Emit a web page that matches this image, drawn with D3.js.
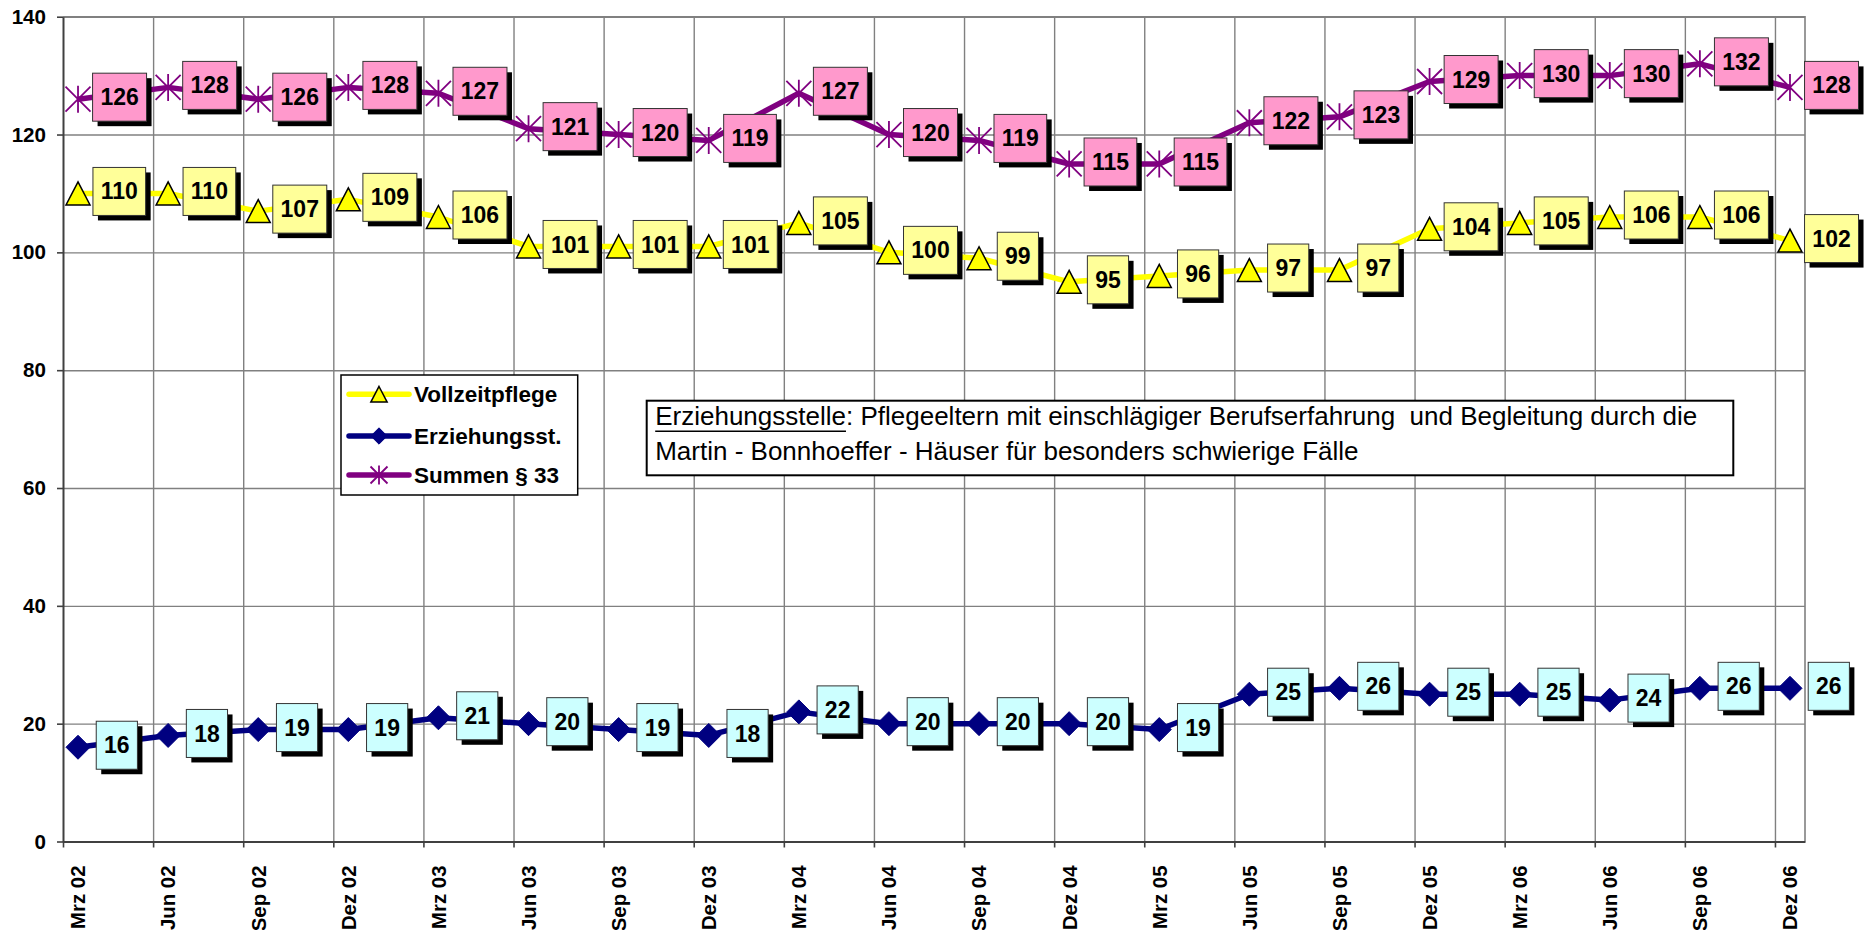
<!DOCTYPE html>
<html>
<head>
<meta charset="utf-8">
<script src="https://cdn.jsdelivr.net/npm/d3@7"></script>
<style>
  body { margin: 0; background: #fff; }
  svg { display: block; }
  text { font-family: Arial, "Liberation Sans", Helvetica, sans-serif; }
</style>
</head>
<body>
<svg id="chart" width="1865" height="930"></svg>
<script>
// Quarterly head counts, March 2002 – December 2006
const quarters = ["Mrz 02", "Jun 02", "Sep 02", "Dez 02", "Mrz 03", "Jun 03", "Sep 03", "Dez 03",
                  "Mrz 04", "Jun 04", "Sep 04", "Dez 04", "Mrz 05", "Jun 05", "Sep 05", "Dez 05",
                  "Mrz 06", "Jun 06", "Sep 06", "Dez 06"];
const vollzeitpflege = [110, 110, 107, 109, 106, 101, 101, 101, 105, 100, 99, 95, 96, 97, 97, 104, 105, 106, 106, 102];
const erziehungsstellen = [16, 18, 19, 19, 21, 20, 19, 18, 22, 20, 20, 20, 19, 25, 26, 25, 25, 24, 26, 26];
const summen33 = [126, 128, 126, 128, 127, 121, 120, 119, 127, 120, 119, 115, 115, 122, 123, 129, 130, 130, 132, 128];
const yTicks = [0, 20, 40, 60, 80, 100, 120, 140];
const seriesNames = ["Vollzeitpflege", "Erziehungsst.", "Summen § 33"];
const noteTerm = "Erziehungsstelle";
const noteRest = ": Pflegeeltern mit einschlägiger Berufserfahrung  und Begleitung durch die";
const noteLine2 = "Martin - Bonnhoeffer - Häuser für besonders schwierige Fälle";

const svg = d3.select("#chart");
const plot = { left: 63, right: 1805, top: 16.7, bottom: 841.5 };
const monthsShown = 58; // Mar 2002 .. Dec 2006, one slot per month

// x runs over month slots; each quarter's point sits in the middle of its month
const x = d3.scaleLinear().domain([0, monthsShown]).range([plot.left, plot.right]);
const y = d3.scaleLinear().domain([0, 140]).range([plot.bottom, plot.top]);
const px = i => x(3 * i + 0.5);

const gridColor = "#808080";
const axisColor = "#404040";

// Gridlines
svg.append("g")
  .attr("transform", `translate(${plot.left},0)`)
  .call(d3.axisLeft(y).tickValues(yTicks.filter(v => v > 0)).tickSize(-(plot.right - plot.left)).tickFormat(""))
  .call(g => g.select(".domain").remove())
  .call(g => g.selectAll("line").attr("stroke", gridColor).attr("stroke-width", 1.4));

svg.append("g")
  .attr("transform", `translate(0,${plot.bottom})`)
  .call(d3.axisBottom(x).tickValues(quarters.map((q, i) => 3 * i).filter(v => v > 0))
        .tickSize(-(plot.bottom - plot.top)).tickFormat(""))
  .call(g => g.select(".domain").remove())
  .call(g => g.selectAll("line").attr("stroke", gridColor).attr("stroke-width", 1.4));

// Plot frame: top and right in grey
svg.append("path")
  .attr("d", `M${plot.left},${plot.top}H${plot.right}V${plot.bottom}`)
  .attr("fill", "none").attr("stroke", gridColor).attr("stroke-width", 1.6);

// Y axis
svg.append("g")
  .attr("transform", `translate(${plot.left},0)`)
  .call(d3.axisLeft(y).tickValues(yTicks).tickSize(6).tickPadding(11).tickSizeOuter(0))
  .call(g => g.select(".domain").attr("stroke", axisColor).attr("stroke-width", 2))
  .call(g => g.selectAll(".tick line").attr("stroke", axisColor).attr("stroke-width", 1.6))
  .call(g => g.selectAll(".tick text")
    .attr("font-size", "20.6px").attr("font-weight", "bold").attr("fill", "#000")
    .attr("font-family", "Arial, 'Liberation Sans', sans-serif"));

// X axis: ticks at quarter starts, labels under each point
svg.append("g")
  .attr("transform", `translate(0,${plot.bottom})`)
  .call(d3.axisBottom(x).tickValues(quarters.map((q, i) => 3 * i)).tickSize(6).tickFormat("").tickSizeOuter(0))
  .call(g => g.select(".domain").attr("stroke", axisColor).attr("stroke-width", 2))
  .call(g => g.selectAll(".tick line").attr("stroke", axisColor).attr("stroke-width", 1.6));

svg.append("g").selectAll("text")
  .data(quarters)
  .join("text")
  .attr("transform", (d, i) => `translate(${px(i)},${plot.bottom + 24}) rotate(-90)`)
  .attr("text-anchor", "end")
  .attr("dy", "0.36em")
  .attr("font-size", "20.4px")
  .attr("font-weight", "bold")
  .text(d => d);

// Series
const series = [
  { name: seriesNames[0], values: vollzeitpflege, color: "#FFFF00", marker: "triangle", labelFill: "#FFFF99" },
  { name: seriesNames[1], values: erziehungsstellen, color: "#000080", marker: "diamond", labelFill: "#CCFFFF" },
  { name: seriesNames[2], values: summen33, color: "#800080", marker: "star", labelFill: "#FF99CC" }
];

function drawMarker(sel, type, color, s) {
  if (type === "triangle") {
    sel.append("path")
      .attr("d", `M0,${-11.5 * s}L${12 * s},${11.5 * s}L${-12 * s},${11.5 * s}Z`)
      .attr("fill", "#FFFF00").attr("stroke", "#000").attr("stroke-width", 1.5).attr("stroke-linejoin", "miter");
  } else if (type === "diamond") {
    sel.append("path")
      .attr("d", `M0,${-12 * s}L${12 * s},0L0,${12 * s}L${-12 * s},0Z`)
      .attr("fill", color).attr("stroke", color).attr("stroke-width", 1);
  } else {
    const r = 12.5 * s;
    sel.append("path")
      .attr("d", `M${-r},${-r}L${r},${r}M${-r},${r}L${r},${-r}M0,${-r - 1}L0,${r + 1}`)
      .attr("fill", "none").attr("stroke", color).attr("stroke-width", 1.8);
  }
}

const line = d3.line().x((d, i) => px(i)).y(d => y(d));

series.forEach(sr => {
  svg.append("path")
    .datum(sr.values)
    .attr("d", line)
    .attr("fill", "none")
    .attr("stroke", sr.color)
    .attr("stroke-width", 5.5)
    .attr("stroke-linejoin", "round");
  const m = svg.append("g").selectAll("g")
    .data(sr.values)
    .join("g")
    .attr("transform", (d, i) => `translate(${px(i)},${y(d)})`);
  m.each(function () { drawMarker(d3.select(this), sr.marker, sr.color, 1); });
});

// Value labels in boxes with drop shadow, to the right of each point
const labelLayer = svg.append("g");
series.forEach(sr => {
  sr.values.forEach((v, i) => {
    const g = labelLayer.append("g");
    const t = g.append("text")
      .attr("font-size", "23px").attr("font-weight", "bold")
      .attr("text-anchor", "middle").attr("dy", "0.35em")
      .text(v);
    const w = t.node().getComputedTextLength() + 15.6;
    const h = 48;
    const cx = px(i) + 30 - 0.286 * w + w / 2;
    const cy = y(v) - 2;
    g.insert("rect", "text")
      .attr("x", cx - w / 2 + 5).attr("y", cy - h / 2 + 5)
      .attr("width", w).attr("height", h).attr("fill", "#000");
    g.insert("rect", "text")
      .attr("x", cx - w / 2).attr("y", cy - h / 2)
      .attr("width", w).attr("height", h)
      .attr("fill", sr.labelFill).attr("stroke", "#333").attr("stroke-width", 1);
    t.attr("x", cx).attr("y", cy);
  });
});

// Legend
const legend = svg.append("g").attr("transform", "translate(341,375)");
legend.append("rect").attr("width", 236.7).attr("height", 120)
  .attr("fill", "#fff").attr("stroke", "#000").attr("stroke-width", 1.5);
const legendRows = [19.3, 61, 100];
series.forEach((sr, k) => {
  const row = legend.append("g").attr("transform", `translate(0,${legendRows[k]})`);
  row.append("line").attr("x1", 8).attr("x2", 68).attr("y1", 0).attr("y2", 0)
    .attr("stroke", sr.color).attr("stroke-width", 5.5).attr("stroke-linecap", "round");
  const mk = row.append("g").attr("transform", "translate(38,0)");
  drawMarker(mk, sr.marker, sr.color, 0.68);
  row.append("text").attr("x", 73).attr("dy", "0.36em")
    .attr("font-size", "22.5px").attr("font-weight", "bold").text(sr.name);
});

// Explanatory note
const note = svg.append("g").attr("transform", "translate(646.7,400.7)");
note.append("rect").attr("width", 1086.6).attr("height", 74.6)
  .attr("fill", "#fff").attr("stroke", "#000").attr("stroke-width", 2);
const l1 = note.append("text").attr("x", 8.5).attr("y", 24.5)
  .attr("font-size", "26px").style("white-space", "pre");
l1.append("tspan").text(noteTerm);
l1.append("tspan").text(noteRest);
const termWidth = l1.node().getSubStringLength(0, noteTerm.length);
note.append("line").attr("x1", 8.5).attr("x2", 8.5 + termWidth)
  .attr("y1", 30.5).attr("y2", 30.5).attr("stroke", "#000").attr("stroke-width", 1.6);
note.append("text").attr("x", 8.5).attr("y", 59.5)
  .attr("font-size", "26px").text(noteLine2);
</script>
</body>
</html>
